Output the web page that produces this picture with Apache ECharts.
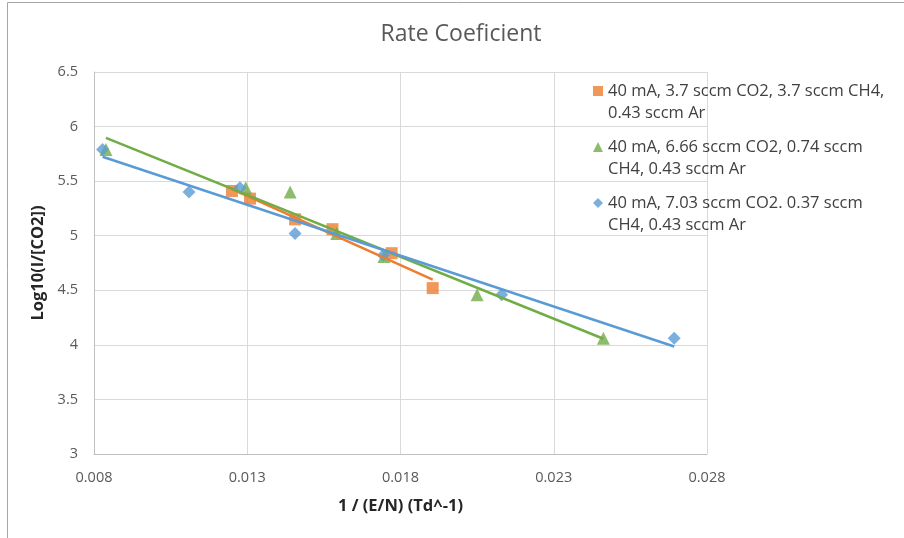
<!DOCTYPE html>
<html><head><meta charset="utf-8">
<script src="https://cdn.jsdelivr.net/npm/echarts@6/dist/echarts.min.js"></script>
<style>html,body{margin:0;padding:0;background:#fff}#c{width:904px;height:538px}</style>
</head><body><div id="c"></div>
<script>
// ---- data ----
const seriesNames = [
  "40 mA, 3.7 sccm CO2, 3.7 sccm CH4,\n0.43 sccm Ar",
  "40 mA, 6.66 sccm CO2, 0.74 sccm\nCH4, 0.43 sccm Ar",
  "40 mA, 7.03 sccm CO2. 0.37 sccm\nCH4, 0.43 sccm Ar"
];
const orangeX = [0.0125, 0.01309, 0.01456, 0.01578, 0.01771, 0.01905];
const orangeY = [5.41, 5.34, 5.15, 5.06, 4.84, 4.52];
const greenX = [0.00839, 0.01295, 0.01440, 0.01592, 0.01746, 0.0205, 0.02462];
const greenY = [5.79, 5.44, 5.40, 5.02, 4.81, 4.46, 4.06];
const blueX = [0.00828, 0.0111, 0.01276, 0.01456, 0.01744, 0.0213, 0.02693];
const blueY = [5.79, 5.40, 5.44, 5.02, 4.82, 4.46, 4.06];
const xMin = 0.008, xMax = 0.028, xStep = 0.005;
const yMin = 3, yMax = 6.5, yStep = 0.5;
const colors = ["#ED7D31", "#70AD47", "#5B9BD5"];
const symbols = ["rect", "triangle", "diamond"];

// linear least-squares trendline (Excel linear trendline), spanning data range
function trend(xs, ys) {
  const n = xs.length;
  const mx = xs.reduce((a, b) => a + b, 0) / n;
  const my = ys.reduce((a, b) => a + b, 0) / n;
  let sxy = 0, sxx = 0;
  for (let i = 0; i < n; i++) { sxy += (xs[i] - mx) * (ys[i] - my); sxx += (xs[i] - mx) ** 2; }
  const b = sxy / sxx, a = my - b * mx;
  const x0 = Math.min(...xs), x1 = Math.max(...xs);
  return [[x0, a + b * x0], [x1, a + b * x1]];
}

const sets = [[orangeX, orangeY], [greenX, greenY], [blueX, blueY]];
const series = [];
sets.forEach((s, i) => {
  series.push({
    name: seriesNames[i], type: "scatter", symbol: symbols[i],
    symbolSize: i === 0 ? 12 : 13,
    itemStyle: { color: colors[i] }, z: 3 + i,
    data: s[0].map((x, k) => [x, s[1][k]])
  });
});
sets.forEach((s, i) => {
  series.push({
    type: "line", showSymbol: false, silent: true, z: 10,
    lineStyle: { color: colors[i], width: 2.5 },
    data: trend(s[0], s[1])
  });
});

const font = "'Open Sans', 'Noto Sans', sans-serif";
const chart = echarts.init(document.getElementById("c"));
chart.setOption({
  animation: false,
  textStyle: { fontFamily: font },
  title: {
    text: "Rate Coeficient", left: 456, textAlign: "center", top: 18,
    textStyle: { fontFamily: font, fontSize: 23, fontWeight: "normal", color: "#595959" }
  },
  graphic: [{
    type: "rect", shape: { x: 7.5, y: 2.5, width: 1200, height: 1200 },
    style: { fill: "none", stroke: "#a6a6a6", lineWidth: 1 }, silent: true
  }],
  grid: { left: 94, right: 197, top: 72, bottom: 84, containLabel: false },
  legend: {
    orient: "vertical", left: 588, top: 53, itemWidth: 10, itemHeight: 10, itemGap: -10,
    data: seriesNames.map((n, i) => ({ name: n, icon: symbols[i] })),
    formatter: name => "\n" + name,
    textStyle: { fontFamily: font, fontSize: 16.5, color: "#404040", lineHeight: 22 }
  },
  xAxis: {
    type: "value", min: xMin, max: xMax, interval: xStep,
    name: "1 / (E/N) (Td^-1)", nameLocation: "middle", nameGap: 44,
    nameTextStyle: { fontFamily: font, fontSize: 16.5, fontWeight: "bold", color: "#262626" },
    axisLine: { show: true, lineStyle: { color: "#bfbfbf" } },
    axisTick: { show: false },
    axisLabel: { margin: 16, fontSize: 14.5, color: "#595959", formatter: v => v.toFixed(3) },
    splitLine: { show: true, lineStyle: { color: "#d9d9d9" } }
  },
  yAxis: {
    type: "value", min: yMin, max: yMax, interval: yStep,
    name: "Log10(I/[CO2])", nameLocation: "middle", nameGap: 38,
    nameTextStyle: { fontFamily: font, fontSize: 16.5, fontWeight: "bold", color: "#262626" },
    axisLine: { show: true, lineStyle: { color: "#bfbfbf" } },
    axisTick: { show: false },
    axisLabel: { margin: 16, fontSize: 14.5, color: "#595959", formatter: v => String(+v.toFixed(2)) },
    splitLine: { show: true, lineStyle: { color: "#d9d9d9" } }
  },
  series: series
});
</script></body></html>
